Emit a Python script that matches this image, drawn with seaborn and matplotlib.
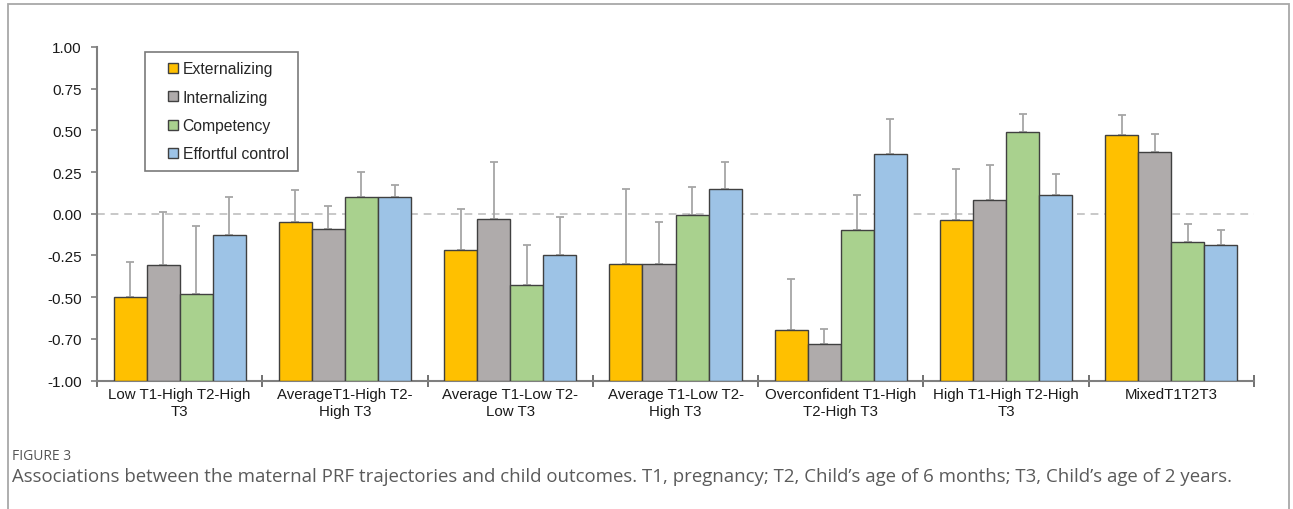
import matplotlib
matplotlib.use("Agg")
import matplotlib.pyplot as plt
from matplotlib.lines import Line2D
from matplotlib.patches import Rectangle
import seaborn as sns
import pandas as pd
import numpy as np

categories = [
    "Low T1-High T2-High\nT3",
    "AverageT1-High T2-\nHigh T3",
    "Average T1-Low T2-\nLow T3",
    "Average T1-Low T2-\nHigh T3",
    "Overconfident T1-High\nT2-High T3",
    "High T1-High T2-High\nT3",
    "MixedT1T2T3",
]
measures = ["Externalizing", "Internalizing", "Competency", "Effortful control"]

externalizing = [-0.50, -0.05, -0.215, -0.30, -0.70, -0.04, 0.47]
internalizing = [-0.31, -0.09, -0.03, -0.30, -0.78, 0.08, 0.37]
competency = [-0.48, 0.10, -0.43, -0.01, -0.095, 0.49, -0.17]
effortful = [-0.13, 0.10, -0.25, 0.15, 0.36, 0.115, -0.19]

externalizing_err = [-0.29, 0.14, 0.03, 0.15, -0.39, 0.27, 0.59]
internalizing_err = [0.01, 0.045, 0.31, -0.05, -0.69, 0.29, 0.48]
competency_err = [-0.075, 0.25, -0.19, 0.16, 0.11, 0.60, -0.06]
effortful_err = [0.10, 0.175, -0.02, 0.31, 0.57, 0.24, -0.10]

ytick_values = [-1.00, -0.75, -0.50, -0.25, 0.00, 0.25, 0.50, 0.75, 1.00]
ytick_labels = ["-1.00", "-0.70", "-0.50", "-0.25", "0.00", "0.25", "0.50", "0.75", "1.00"]

colors = ["#FFC000", "#AFABAB", "#A9D18E", "#9DC3E6"]
BASE = -1.0

values = [externalizing, internalizing, competency, effortful]
errs = [externalizing_err, internalizing_err, competency_err, effortful_err]

rows = []
for m, vals, es in zip(measures, values, errs):
    for c, v, e in zip(categories, vals, es):
        rows.append({"category": c, "measure": m, "value": v, "err": e})
df = pd.DataFrame(rows)
df["height"] = df["value"] - BASE

sns.set_theme(style="white")
plt.rcParams["font.family"] = ["Liberation Sans", "DejaVu Sans"]

fig = plt.figure(figsize=(12.93, 5.10), dpi=100)
ax = fig.add_axes([97 / 1293, 1 - 381.5 / 510, (1254 - 97) / 1293, (381.5 - 48) / 510])

sns.barplot(data=df, x="category", y="height", hue="measure",
            order=categories, hue_order=measures, palette=colors, saturation=1,
            bottom=BASE, edgecolor="#404040", linewidth=1.0,
            errorbar=None, legend=False, ax=ax, zorder=3)

# error bars (one-sided, upward)
for cont, m in zip(ax.containers, measures):
    sub = df[df["measure"] == m].set_index("category").loc[categories]
    xs = [p.get_x() + p.get_width() / 2 for p in cont.patches]
    v = sub["value"].to_numpy()
    e = sub["err"].to_numpy()
    ax.errorbar(xs, v, yerr=[np.zeros_like(v), e - v], fmt="none",
                ecolor="#A6A6A6", elinewidth=1.3, capsize=3, capthick=1.3, zorder=2)

ax.axhline(0, color="#C8C8C8", lw=1.4, ls=(0, (4, 3)), zorder=1)

ax.set_ylim(-1, 1)
ax.set_xlim(-0.5, len(categories) - 0.5)
ax.set_yticks(ytick_values)
ax.set_yticklabels(ytick_labels)
ax.set_xlabel("")
ax.set_ylabel("")

for s in ["top", "right"]:
    ax.spines[s].set_visible(False)
for s in ["left", "bottom"]:
    ax.spines[s].set_color("#7F7F7F")
    ax.spines[s].set_linewidth(1.5)

ax.tick_params(axis="y", which="major", direction="out", length=4, width=1.2,
               color="#7F7F7F", labelsize=11, labelcolor="#1a1a1a", pad=7, left=True)
ax.tick_params(axis="x", which="major", length=0, labelsize=10.8, labelcolor="#1a1a1a", pad=5)
ax.set_xticks(np.arange(-0.5, len(categories) + 0.5, 1.0), minor=True)
ax.tick_params(axis="x", which="minor", direction="inout", length=8, width=1.2,
               color="#595959", bottom=True)

handles = [Line2D([0], [0], marker="s", linestyle="none", markersize=7,
                  markerfacecolor=c, markeredgecolor="#404040", markeredgewidth=1.0)
           for c in colors]
leg = ax.legend(handles, measures, loc="upper left",
                bbox_to_anchor=(145 / 1293, 1 - 53 / 510), bbox_transform=fig.transFigure,
                fontsize=11.3, frameon=True, fancybox=False, borderpad=0.6,
                handlelength=2.4, handletextpad=-0.6, labelspacing=0.85,
                borderaxespad=0)
leg.get_frame().set_edgecolor("#595959")
leg.get_frame().set_linewidth(1.2)

# figure border
fig.add_artist(Rectangle((8 / 1293, -0.2), (1289 - 8) / 1293, 1.2 - 4.5 / 510,
                         transform=fig.transFigure, fill=False,
                         edgecolor="#A8A8A8", lw=1.3, clip_on=False))

fig.text(12 / 1293, 1 - 456 / 510, "FIGURE 3", fontsize=10, color="#555555",
         family=["Open Sans", "DejaVu Sans"], va="center", ha="left")
fig.text(12 / 1293, 1 - 477 / 510,
         "Associations between the maternal PRF trajectories and child outcomes. T1, pregnancy; "
         "T2, Child\u2019s age of 6 months; T3, Child\u2019s age of 2 years.",
         fontsize=13.4, color="#5a5a5a", family=["Open Sans", "DejaVu Sans"],
         va="center", ha="left")

fig.savefig("out.png", dpi=100)
